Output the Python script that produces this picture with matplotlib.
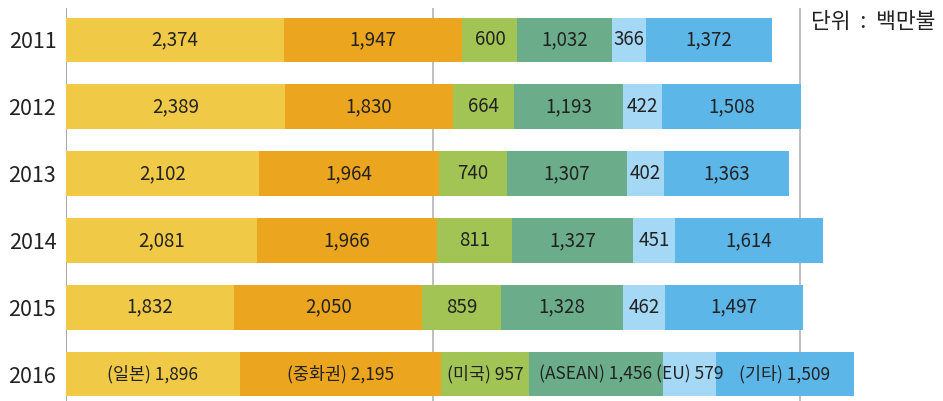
import numpy as np
import matplotlib.pyplot as plt

plt.rcParams['font.family'] = ['Noto Sans CJK KR', 'DejaVu Sans']

years = ['2011', '2012', '2013', '2014', '2015', '2016']
regions = ['일본', '중화권', '미국', 'ASEAN', 'EU', '기타']
japan = [2374, 2389, 2102, 2081, 1832, 1896]
china = [1947, 1830, 1964, 1966, 2050, 2195]
usa = [600, 664, 740, 811, 859, 957]
asean = [1032, 1193, 1307, 1327, 1328, 1456]
eu = [366, 422, 402, 451, 462, 579]
other = [1372, 1508, 1363, 1614, 1497, 1509]
unit_label = '단위  :  백만불'

series = [japan, china, usa, asean, eu, other]
colors = ['#F0C947', '#ECA51E', '#A2C455', '#6BAD8A', '#A5D8F5', '#5CB6E8']

fig = plt.figure(figsize=(9.43, 4.01), dpi=100)
ax = fig.add_axes([66 / 943, 0, 877 / 943, 393 / 401])

y = np.arange(len(years))
left = np.zeros(len(years))
for k, (vals, c) in enumerate(zip(series, colors)):
    vals = np.array(vals)
    ax.barh(y, vals, left=left, height=0.67, color=c, zorder=2)
    for i, v in enumerate(vals):
        txt = f'{v:,}'
        fs = 13.5
        if i == len(years) - 1:
            # last row carries the region names
            txt = f'({regions[k]}) {txt}'
            fs = 12.5
        ax.text(left[i] + v / 2, y[i], txt, ha='center', va='center',
                fontsize=fs, color='#222222', zorder=3)
    left += vals

for gx, gc in [(0, '#999999'), (4000, '#b5b5b5'), (8000, '#b5b5b5')]:
    ax.axvline(gx, color=gc, lw=1.2, zorder=1)

ax.set_xlim(0, 9559)
ax.set_ylim(5.404, -0.479)
ax.set_yticks(y)
ax.set_yticklabels(years, fontsize=15.5, color='#222222')
ax.tick_params(axis='y', length=0, pad=7)
ax.set_xticks([])
for s in ax.spines.values():
    s.set_visible(False)

fig.text(935 / 943, 1 - 22 / 401, unit_label, ha='right', va='center',
         fontsize=15.5, color='#222222')

fig.savefig('out.png', dpi=100)
